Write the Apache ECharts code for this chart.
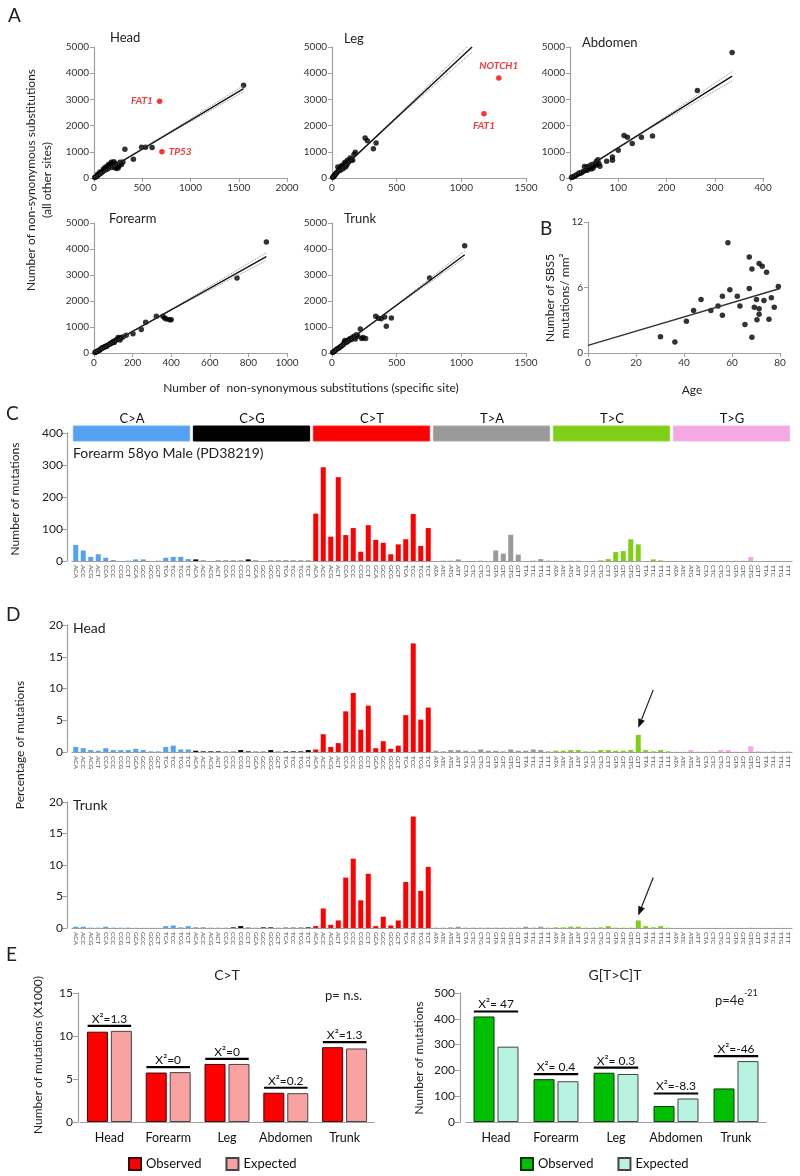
<!DOCTYPE html>
<html>
<head>
<meta charset="utf-8">
<script src="https://cdn.jsdelivr.net/npm/echarts@6/dist/echarts.min.js"></script>
<style>
  html, body { margin: 0; background: #fff; }
  #main { width: 800px; height: 1176px; }
</style>
</head>
<body>
<div id="main"></div>
<script>
// ---- panel A: substitutions per gene, specific site vs all other sites ----
const headPts = [
  [1550, 3540], [320, 1100], [408, 712], [493, 1175], [534, 1175], [602, 1160],
  [300, 610], [285, 520], [270, 600], [255, 450], [240, 520], [228, 430], [215, 560], [205, 620],
  [195, 480], [185, 560], [175, 420], [165, 500], [155, 380], [145, 440], [135, 330], [125, 380],
  [115, 300], [105, 320], [95, 260], [85, 230], [75, 200], [65, 170], [55, 150], [45, 110],
  [35, 90], [25, 60], [15, 40], [8, 20], [250, 380], [232, 360], [150, 520], [178, 600],
  [120, 420], [98, 340], [62, 230], [38, 140], [200, 400], [260, 480]
]
const headRed = [['FAT1', 680, 2930, 'left'], ['TP53', 704, 1000, 'right']]
const headFit = [[0, 0], [1550, 3410]]
const headCiLow = [[0, -30], [775, 1690], [1550, 3290]]
const headCiHigh = [[0, 30], [775, 1740], [1550, 3530]]

const legPts = [
  [256, 1527], [274, 1425], [320, 1120], [341, 1336], [180, 980], [170, 900], [150, 700],
  [140, 760], [130, 620], [120, 680], [110, 560], [100, 600], [95, 480], [90, 520], [80, 440],
  [75, 400], [70, 460], [60, 360], [55, 300], [50, 280], [45, 420], [40, 220], [35, 200],
  [30, 160], [25, 140], [20, 100], [15, 80], [10, 50], [5, 20], [115, 500], [105, 420],
  [85, 350], [65, 300], [125, 600], [160, 680]
]
const legRed = [['NOTCH1', 1290, 3820, 'top'], ['FAT1', 1175, 2450, 'bottom']]
const legFit = [[0, 0], [1083, 5000]]
const legCiLow = [[0, -30], [540, 2460], [1083, 4800]]
const legCiHigh = [[0, 30], [540, 2530], [1083, 5200]]

const abdPts = [
  [336, 4790], [264, 3340], [112, 1620], [119, 1560], [148, 1560], [171, 1600], [129, 1320],
  [100, 1060], [88, 800], [88, 680], [76, 640], [62, 450], [55, 640], [58, 700], [52, 560],
  [50, 480], [45, 520], [42, 400], [40, 460], [38, 360], [35, 420], [32, 300], [30, 440],
  [28, 260], [25, 220], [22, 180], [20, 200], [18, 160], [15, 140], [12, 100], [10, 80],
  [8, 60], [5, 40], [3, 20], [48, 380], [44, 340], [36, 300], [60, 540], [55, 500]
]
const abdFit = [[0, 0], [336, 3890]]
const abdCiLow = [[0, -30], [168, 1920], [336, 3700]]
const abdCiHigh = [[0, 30], [168, 1970], [336, 4060]]

const forePts = [
  [893, 4270], [741, 2885], [392, 1280], [366, 1346], [357, 1410], [323, 1410], [268, 1180],
  [245, 900], [202, 744], [167, 680], [150, 620], [140, 600], [130, 560], [120, 520], [110, 480],
  [100, 440], [95, 400], [90, 380], [80, 340], [70, 300], [60, 260], [55, 240], [50, 210],
  [40, 180], [35, 150], [30, 120], [25, 100], [20, 80], [15, 60], [10, 40], [5, 20],
  [125, 600], [135, 500], [105, 400], [85, 360], [65, 250], [45, 200], [375, 1310], [400, 1280]
]
const foreFit = [[0, 0], [893, 3710]]
const foreCiLow = [[0, -30], [446, 1830], [893, 3560]]
const foreCiHigh = [[0, 30], [446, 1880], [893, 3860]]

const trunkPts = [
  [1026, 4128], [755, 2885], [407, 1385], [338, 1410], [459, 1346], [420, 1026], [219, 923],
  [200, 640], [190, 700], [230, 560], [170, 640], [160, 600], [150, 520], [140, 560], [130, 480],
  [120, 440], [110, 400], [100, 480], [90, 340], [80, 300], [70, 260], [60, 220], [50, 180],
  [40, 160], [30, 120], [20, 80], [10, 40], [5, 20], [360, 1340], [380, 1320], [180, 540],
  [125, 500], [95, 420], [240, 600], [260, 560]
]
const trunkFit = [[0, 0], [1026, 3780]]
const trunkCiLow = [[0, -30], [513, 1870], [1026, 3660]]
const trunkCiHigh = [[0, 30], [513, 1910], [1026, 3920]]

// ---- panel B: SBS5 burden vs age ----
const agePts = [
  [30.2, 1.5], [36.2, 1.0], [41, 2.9], [44, 3.9], [47.1, 4.9], [51.2, 3.9], [54.2, 4.3],
  [56, 5.2], [56, 3.45], [58.3, 10.1], [59.1, 5.8], [62.2, 5.2], [63.3, 4.3], [65.4, 2.6],
  [67.2, 8.8], [67.2, 5.9], [68.3, 7.7], [68.3, 1.45], [69.3, 4.2], [70.2, 4.9], [70.4, 3.05],
  [71.3, 8.2], [71.3, 4.05], [71.3, 3.55], [72.6, 7.95], [73.3, 4.8], [74.4, 7.4], [75.4, 3.1],
  [76.4, 5.05], [77.6, 4.2], [79.3, 6.1]
]
const ageFit = [[0, 0.7], [80, 5.9]]

// ---- panels C / D: 96-channel spectra ----
const mutTypes = ['C>A', 'C>G', 'C>T', 'T>A', 'T>C', 'T>G']
const typeColors = ['#55a2f4', '#000000', '#ff0000', '#9a9a9a', '#7fcf16', '#f4a8e4']
const bases = ['A', 'C', 'G', 'T']
const triLabels = []
mutTypes.forEach(t => bases.forEach(a => bases.forEach(b => triLabels.push(a + t[0] + b))))

const forearmCounts = [
  50, 33, 13, 21, 10, 3, 0, 1, 5, 5, 0, 1, 10, 13, 13, 6,
  5, 1, 0, 1, 1, 1, 1, 5, 1, 0, 1, 1, 1, 1, 1, 1,
  148, 293, 76, 262, 81, 103, 29, 112, 66, 57, 21, 52, 68, 147, 47, 103,
  0, 1, 1, 5, 0, 0, 1, 0, 33, 23, 82, 20, 0, 1, 6, 1,
  1, 0, 1, 1, 0, 0, 2, 6, 28, 31, 68, 52, 0, 5, 2, 0,
  0, 0, 0, 0, 0, 0, 0, 0, 1, 1, 13, 0, 0, 0, 0, 0
]
const headPct = [
  0.8, 0.6, 0.3, 0.2, 0.6, 0.3, 0.3, 0.3, 0.5, 0.3, 0.1, 0.1, 0.8, 1.0, 0.4, 0.4,
  0.2, 0.1, 0.1, 0.1, 0.05, 0.05, 0.3, 0.1, 0.05, 0.05, 0.3, 0.05, 0.1, 0.1, 0.1, 0.3,
  0.4, 2.8, 0.8, 1.4, 6.4, 9.3, 3.5, 7.3, 0.6, 1.7, 0.5, 1.0, 5.8, 17.1, 5.1, 7.0,
  0.2, 0.1, 0.3, 0.3, 0.2, 0.1, 0.4, 0.2, 0.2, 0.1, 0.4, 0.2, 0.2, 0.4, 0.3, 0.1,
  0.2, 0.2, 0.3, 0.3, 0.1, 0.1, 0.3, 0.3, 0.2, 0.2, 0.3, 2.7, 0.3, 0.1, 0.3, 0.1,
  0.05, 0.05, 0.3, 0.05, 0.05, 0.05, 0.3, 0.3, 0.05, 0.05, 0.9, 0.1, 0.05, 0.1, 0.05, 0.1
]
const trunkPct = [
  0.2, 0.2, 0.05, 0.05, 0.2, 0.05, 0.05, 0.05, 0.02, 0.02, 0.02, 0.02, 0.3, 0.4, 0.1, 0.3,
  0.05, 0.05, 0.02, 0.02, 0.02, 0.1, 0.3, 0.05, 0.02, 0.1, 0.1, 0.02, 0.05, 0.05, 0.05, 0.1,
  0.3, 3.1, 0.5, 1.2, 8.0, 11.0, 4.4, 8.6, 0.3, 1.8, 0.4, 1.2, 7.3, 17.7, 5.9, 9.7,
  0.05, 0.05, 0.1, 0.2, 0.05, 0.05, 0.05, 0.05, 0.05, 0.05, 0.05, 0.05, 0.2, 0.05, 0.2, 0.05,
  0.1, 0.1, 0.2, 0.2, 0.05, 0.05, 0.1, 0.3, 0.05, 0.05, 0.05, 1.2, 0.3, 0.1, 0.3, 0.05,
  0.02, 0.02, 0.02, 0.02, 0.02, 0.02, 0.02, 0.02, 0.02, 0.02, 0.05, 0.02, 0.02, 0.02, 0.02, 0.02
]

// ---- panel E: observed vs expected per site ----
const sites = ['Head', 'Forearm', 'Leg', 'Abdomen', 'Trunk']
const ctObserved = [10.5, 5.75, 6.75, 3.4, 8.7]
const ctExpected = [10.6, 5.8, 6.75, 3.35, 8.55]
const ctChi = ['1.3', '0', '0', '0.2', '1.3']
const gtcObserved = [409, 166, 191, 62, 130]
const gtcExpected = [292, 158, 186, 91, 236]
const gtcChi = [' 47', ' 0.4', ' 0.3', '-8.3', '-46']

const font = 'Lato, "Liberation Sans", sans-serif'
const axisGray = '#a0a0a0'
const chart = echarts.init(document.getElementById('main'))

function valAxis(gridIndex, max, interval, extra) {
  return Object.assign({
    type: 'value', gridIndex, min: 0, max, interval,
    axisLine: { show: true, lineStyle: { color: axisGray, width: 1.2 } },
    axisTick: { show: true, length: 4, lineStyle: { color: axisGray } },
    splitLine: { show: false },
    axisLabel: { fontSize: 10, color: '#333', margin: 5, fontFamily: font, formatter: v => String(v) }
  }, extra || {})
}

function scatterPanel(i, pts, fit, lo, hi, red) {
  const out = [
    { type: 'line', xAxisIndex: i, yAxisIndex: i, data: lo, symbol: 'none', silent: true,
      lineStyle: { color: '#888', width: 1, type: 'dotted' } },
    { type: 'line', xAxisIndex: i, yAxisIndex: i, data: hi, symbol: 'none', silent: true,
      lineStyle: { color: '#888', width: 1, type: 'dotted' } },
    { type: 'line', xAxisIndex: i, yAxisIndex: i, data: fit, symbol: 'none', silent: true,
      lineStyle: { color: '#111', width: 1.4 } },
    { type: 'scatter', xAxisIndex: i, yAxisIndex: i, data: pts, symbolSize: 5.5, clip: false,
      itemStyle: { color: '#000' } }
  ]
  if (red) {
    out.push({
      type: 'scatter', xAxisIndex: i, yAxisIndex: i, symbolSize: 5.5, clip: false,
      itemStyle: { color: '#ff0000' },
      data: red.map(r => ({ name: r[0], value: [r[1], r[2]], label: { position: r[3] } })),
      label: { show: true, formatter: '{b}', color: '#ff0000', fontStyle: 'italic',
        fontWeight: 'bold', fontSize: 10, fontFamily: font, distance: 4 }
    })
  }
  return out
}

function spectrum(values) {
  return values.map((v, i) => ({ value: v, itemStyle: { color: typeColors[Math.floor(i / 16)] } }))
}

function spectrumX(gridIndex) {
  return {
    type: 'category', gridIndex, data: triLabels,
    axisLine: { lineStyle: { color: axisGray, width: 1.2 } },
    axisTick: { show: false },
    axisLabel: { interval: 0, rotate: -90, fontSize: 6.5, color: '#555', margin: 4, fontFamily: font }
  }
}

function spectrumY(gridIndex, max, interval) {
  return valAxis(gridIndex, max, interval, {
    offset: 5,
    axisTick: { show: true, length: 5, lineStyle: { color: axisGray } },
    axisLabel: { fontSize: 12, color: '#222', margin: 4, fontFamily: font }
  })
}

function chiSeries(i, obs, exp, labels) {
  const tops = obs.map((v, k) => [k, Math.max(v, exp[k])])
  return {
    type: 'custom', xAxisIndex: i, yAxisIndex: i, silent: true, clip: false, data: tops,
    renderItem(params, api) {
      const p = api.coord([api.value(0), api.value(1)])
      const half = api.size([1, 0])[0] * 0.37
      const y = p[1] - 5
      return {
        type: 'group', children: [
          { type: 'line', shape: { x1: p[0] - half, y1: y, x2: p[0] + half, y2: y },
            style: { stroke: '#000', lineWidth: 2.2 } },
          { type: 'text', x: p[0], y: y - 1,
            style: { text: 'X²=' + labels[params.dataIndex], fontSize: 12, fontFamily: font, fill: '#111',
              align: 'center', verticalAlign: 'bottom', textAlign: 'center', textVerticalAlign: 'bottom' } }
        ]
      }
    }
  }
}

const eCatAxis = (gridIndex) => ({
  type: 'category', gridIndex, data: sites,
  axisLine: { lineStyle: { color: axisGray, width: 1.2 } },
  axisTick: { alignWithLabel: true, length: 5, lineStyle: { color: axisGray } },
  axisLabel: { interval: 0, fontSize: 12.5, color: '#111', margin: 9, fontFamily: font }
})

const legendNames = { ctObs: 'Observed', ctExp: 'Expected', gtcObs: 'Observed', gtcExp: 'Expected' }

chart.setOption({
  animation: false,
  textStyle: { fontFamily: font },
  grid: [
    { left: 94, top: 47, width: 193, height: 131 },
    { left: 332, top: 47, width: 194, height: 131 },
    { left: 570, top: 47, width: 193, height: 131 },
    { left: 94, top: 223, width: 193, height: 130 },
    { left: 332, top: 223, width: 194, height: 130 },
    { left: 588, top: 222, width: 192, height: 131 },
    { left: 72, top: 433, width: 720, height: 128 },
    { left: 72, top: 625, width: 720, height: 127 },
    { left: 72, top: 802, width: 720, height: 126 },
    { left: 80, top: 993, width: 294, height: 129 },
    { left: 466, top: 993, width: 300, height: 129 }
  ],
  xAxis: [
    valAxis(0, 2000, 500), valAxis(1, 1500, 500), valAxis(2, 400, 100),
    valAxis(3, 1000, 200), valAxis(4, 1500, 500), valAxis(5, 80, 20),
    spectrumX(6), spectrumX(7), spectrumX(8),
    eCatAxis(9), eCatAxis(10)
  ],
  yAxis: [
    valAxis(0, 5000, 1000), valAxis(1, 5000, 1000), valAxis(2, 5000, 1000),
    valAxis(3, 5000, 1000), valAxis(4, 5000, 1000), valAxis(5, 12, 6),
    spectrumY(6, 400, 100), spectrumY(7, 20, 5), spectrumY(8, 20, 5),
    valAxis(9, 15, 5, { offset: 2, axisTick: { show: true, length: 5, lineStyle: { color: axisGray } },
      axisLabel: { fontSize: 12, color: '#222', margin: 5, fontFamily: font } }),
    valAxis(10, 500, 100, { offset: 6, axisTick: { show: true, length: 5, lineStyle: { color: axisGray } },
      axisLabel: { fontSize: 12, color: '#222', margin: 5, fontFamily: font } })
  ],
  legend: [
    { left: 123, top: 1152, itemWidth: 12, itemHeight: 12, itemGap: 24, icon: 'rect',
      data: ['ctObs', 'ctExp'], formatter: n => legendNames[n],
      textStyle: { fontSize: 13, color: '#111', fontFamily: font } },
    { left: 515, top: 1152, itemWidth: 12, itemHeight: 12, itemGap: 24, icon: 'rect',
      data: ['gtcObs', 'gtcExp'], formatter: n => legendNames[n],
      textStyle: { fontSize: 13, color: '#111', fontFamily: font } }
  ],
  series: [
    ...scatterPanel(0, headPts, headFit, headCiLow, headCiHigh, headRed),
    ...scatterPanel(1, legPts, legFit, legCiLow, legCiHigh, legRed),
    ...scatterPanel(2, abdPts, abdFit, abdCiLow, abdCiHigh),
    ...scatterPanel(3, forePts, foreFit, foreCiLow, foreCiHigh),
    ...scatterPanel(4, trunkPts, trunkFit, trunkCiLow, trunkCiHigh),
    { type: 'line', xAxisIndex: 5, yAxisIndex: 5, data: ageFit, symbol: 'none', silent: true,
      lineStyle: { color: '#333', width: 1.5 } },
    { type: 'scatter', xAxisIndex: 5, yAxisIndex: 5, data: agePts, symbolSize: 5.5, itemStyle: { color: '#000' } },
    { type: 'bar', xAxisIndex: 6, yAxisIndex: 6, data: spectrum(forearmCounts), barWidth: 5 },
    { type: 'bar', xAxisIndex: 7, yAxisIndex: 7, data: spectrum(headPct), barWidth: 5 },
    { type: 'bar', xAxisIndex: 8, yAxisIndex: 8, data: spectrum(trunkPct), barWidth: 5 },
    { type: 'bar', name: 'ctObs', xAxisIndex: 9, yAxisIndex: 9, data: ctObserved, barWidth: 21, barGap: '14%',
      itemStyle: { color: '#ff0000', borderColor: '#3a0a0a', borderWidth: 1 } },
    { type: 'bar', name: 'ctExp', xAxisIndex: 9, yAxisIndex: 9, data: ctExpected, barWidth: 21, barGap: '14%',
      itemStyle: { color: '#f9a2a2', borderColor: '#444', borderWidth: 1 } },
    chiSeries(9, ctObserved, ctExpected, ctChi),
    { type: 'bar', name: 'gtcObs', xAxisIndex: 10, yAxisIndex: 10, data: gtcObserved, barWidth: 21, barGap: '14%',
      itemStyle: { color: '#00bf00', borderColor: '#0a3a0a', borderWidth: 1 } },
    { type: 'bar', name: 'gtcExp', xAxisIndex: 10, yAxisIndex: 10, data: gtcExpected, barWidth: 21, barGap: '14%',
      itemStyle: { color: '#b8f2e0', borderColor: '#444', borderWidth: 1 } },
    chiSeries(10, gtcObserved, gtcExpected, gtcChi)
  ]
})

// ---- text, category bands and arrows ----
function txt(x, y, text, size, opts) {
  const o = opts || {}
  const align = o.align || 'left'
  const va = o.va || 'middle'
  return {
    type: 'text', x, y, rotation: o.rot || 0, silent: true,
    style: { text, fontSize: size, fontFamily: font, fill: o.color || '#222', fontWeight: o.weight || 'normal',
      align, verticalAlign: va, textAlign: align, textVerticalAlign: va }
  }
}
const up = Math.PI / 2

const g = [
  txt(8, 16, 'A', 19), txt(540, 229, 'B', 19), txt(6, 414, 'C', 19), txt(6, 615, 'D', 19), txt(6, 955, 'E', 19),
  txt(110, 38, 'Head', 13), txt(344, 39, 'Leg', 13), txt(582, 43, 'Abdomen', 13),
  txt(109, 219, 'Forearm', 13), txt(344, 219, 'Trunk', 13),
  txt(31, 180, 'Number of non-synonymous substitutions', 12, { align: 'center', rot: up }),
  txt(47, 180, '(all other sites)', 12, { align: 'center', rot: up }),
  txt(311, 388, 'Number of  non-synonymous substitutions (specific site)', 12, { align: 'center' }),
  txt(550, 298, 'Number of SBS5', 12, { align: 'center', rot: up }),
  txt(565, 296, 'mutations/ mm²', 12, { align: 'center', rot: up }),
  txt(692, 390, 'Age', 12, { align: 'center' }),
  txt(15, 499, 'Number of mutations', 12, { align: 'center', rot: up }),
  txt(73, 453, 'Forearm 58yo Male (PD38219)', 14),
  txt(20, 745, 'Percentage of mutations', 12, { align: 'center', rot: up }),
  txt(73, 628, 'Head', 14), txt(73, 805, 'Trunk', 14),
  txt(227, 975, 'C>T', 14, { align: 'center' }), txt(615, 975, 'G[T>C]T', 14, { align: 'center' }),
  txt(325, 996, 'p= n.s.', 13), txt(715, 1001, 'p=4e', 13), txt(744, 993, '-21', 9),
  txt(38, 1055, 'Number of mutations (X1000)', 12, { align: 'center', rot: up }),
  txt(419, 1058, 'Number of mutations', 12, { align: 'center', rot: up })
]

// bands above the spectrum, one per mutation type (16 channels each)
mutTypes.forEach((t, k) => {
  const a = chart.convertToPixel({ gridIndex: 6 }, [k * 16, 0])[0]
  const b = chart.convertToPixel({ gridIndex: 6 }, [k * 16 + 15, 0])[0]
  const x0 = a - 3.4, x1 = b + 3.4
  g.push({ type: 'rect', silent: true, shape: { x: x0 + 1, y: 426, width: x1 - x0 - 3, height: 15 },
    style: { fill: typeColors[k], stroke: k === 1 ? '#000' : echarts.color.lift(typeColors[k], 0.15), lineWidth: 1 } })
  g.push(txt((x0 + x1) / 2, 419, t, 13, { align: 'center', color: '#111' }))
})

// arrows to the G[T>C]T channel in panel D
const gtt = triLabels.indexOf('GTT', 64)
function arrow(gridIndex, values, gapPx) {
  const p = chart.convertToPixel({ gridIndex }, [gtt, values[gtt]])
  const tip = [p[0], p[1] - gapPx]
  const tail = [tip[0] + 15, tip[1] - 38]
  const dx = tip[0] - tail[0], dy = tip[1] - tail[1]
  const len = Math.sqrt(dx * dx + dy * dy)
  const ux = dx / len, uy = dy / len
  const bx = tip[0] - ux * 9, by = tip[1] - uy * 9
  return [
    { type: 'line', silent: true, shape: { x1: tail[0], y1: tail[1], x2: bx, y2: by },
      style: { stroke: '#222', lineWidth: 1.2 } },
    { type: 'polygon', silent: true,
      shape: { points: [tip, [bx - uy * 3.5, by + ux * 3.5], [bx + uy * 3.5, by - ux * 3.5]] },
      style: { fill: '#111' } }
  ]
}
g.push(...arrow(7, headPct, 7), ...arrow(8, trunkPct, 5))

chart.setOption({ graphic: g })
</script>
</body>
</html>
